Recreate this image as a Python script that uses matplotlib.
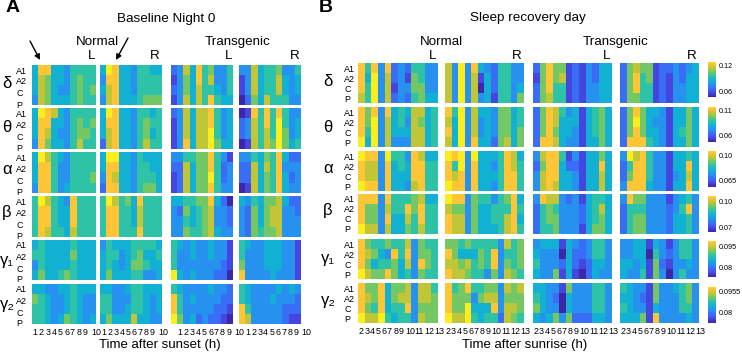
import numpy as np
import matplotlib
matplotlib.use('Agg')
from matplotlib import pyplot as plt
from matplotlib.colors import LinearSegmentedColormap, Normalize
from matplotlib.cm import ScalarMappable
from matplotlib.patches import FancyArrowPatch

plt.rcParams['font.family'] = ['Liberation Sans', 'DejaVu Sans']

# colour level (0-9) of each cell
# each band: normal L, normal R, transgenic L, transgenic R; rows A1, A2, C, P
a_delta = [["4884435555", "4764435655", "4764335656", "3764445655"],
           ["4984435544", "3884435555", "4784435555", "3784445666"],
           ["2374856335", "1364857335", "2364755435", "1374758544"],
           ["3374556335", "1374557434", "1374557434", "0264755533"]]
a_theta = [["4987435555", "4884435656", "4874335665", "3864435755"],
           ["4984435545", "4884435655", "4784435645", "2784435755"],
           ["2374778534", "1374778534", "1374779534", "1384779644"],
           ["0185858533", "2375859534", "2375759634", "0175769645"]]
a_alpha = [["4975435555", "4885335555", "4885335556", "3885345555"],
           ["4994435444", "4884435544", "3874435554", "2884435664"],
           ["3355668531", "2274668523", "1274669523", "1274668533"],
           ["3354658422", "2274758333", "2274658423", "0174658433"]]
a_beta = [["5975438555", "5885448555", "5885448555", "5875547555"],
          ["5975648555", "5885547555", "5885547555", "5885558555"],
          ["4455668420", "3264567332", "3354567332", "3365567433"],
          ["4354667422", "3264677332", "3264677333", "3265667333"]]
a_gamma1 = [["4544445444", "5544446444", "3544445444", "4644565444"],
            ["3544455554", "4553456445", "4543466544", "4644455334"],
            ["5434334331", "5334334331", "5333333321", "9434333220"],
            ["5433444331", "5333444331", "6333444331", "8333343331"]]
a_gamma2 = [["4433445444", "6543345433", "5543345433", "5543465434"],
            ["4433455444", "5533355434", "5533455434", "4644474433"],
            ["5433334332", "8534333322", "8533333221", "9634232210"],
            ["5433334343", "5433343332", "8533333222", "8733333211"]]

b_delta = [["858382325533", "849372316533", "859371336633", "759372325644"],
           ["739384325533", "739371425533", "739370425534", "739373415536"],
           ["268661213244", "168671213244", "268551213344", "267551213344"],
           ["267661223234", "268561213244", "268551213344", "266551213344"]]
b_theta = [["868384547745", "869374537645", "859374447745", "949373337745"],
           ["859374436645", "749373436645", "849373436646", "749384426746"],
           ["268753414564", "268744414564", "268644314564", "288743314464"],
           ["268644314464", "269643314464", "268644314564", "288854314464"]]
b_alpha = [["988395538744", "877384548855", "877384448855", "988384437855"],
           ["989394445874", "859384435875", "878384445885", "988384435885"],
           ["378851314464", "268842214484", "378844314474", "378744314474"],
           ["397853314454", "258853314484", "268853313474", "388843314484"]]
b_beta = [["888385556744", "866375586855", "866384475855", "977374465755"],
          ["988365535684", "766364455585", "877364455784", "877364445785"],
          ["387732314554", "256533324574", "256633324564", "255633314664"],
          ["386633313453", "255533323583", "256633324453", "256633324453"]]
b_gamma1 = [["865565573655", "876438583665", "864556473865", "976686453655"],
            ["665655553756", "864446583556", "776756583656", "877655363765"],
            ["344414323553", "433304223553", "533324212443", "433614102433"],
            ["334414313553", "334405323553", "443416213343", "433516303533"]]
b_gamma2 = [["866846673775", "876846773776", "865845583666", "977954553766"],
            ["856855663767", "866636773666", "866944483776", "977954552765"],
            ["443316333553", "543204333553", "643304333553", "434636222443"],
            ["543316334563", "443216333563", "543314333553", "444618333343"]]

bands_a = [a_delta, a_theta, a_alpha, a_beta, a_gamma1, a_gamma2]
bands_b = [b_delta, b_theta, b_alpha, b_beta, b_gamma1, b_gamma2]
band_names = ['δ', 'θ', 'α', 'β', 'γ₁', 'γ₂']
site_labels = ['A1', 'A2', 'C', 'P']
hours_a = ['1', '2', '3', '4', '5', '6', '7', '8', '9', '10']
hours_b = ['2', '3', '4', '5', '6', '7', '8', '9', '10', '11', '12', '13']

# colorbar ranges and the two labelled ticks
cbar_lo = [0.0486, 0.0456, 0.0569, 0.0641, 0.0729, 0.0727]
cbar_hi = [0.1282, 0.1176, 0.1054, 0.1068, 0.0986, 0.0989]
cbar_ticks = [(0.06, 0.12), (0.06, 0.11), (0.065, 0.10),
              (0.07, 0.10), (0.08, 0.095), (0.08, 0.0955)]
cbar_text = [('0.06', '0.12'), ('0.06', '0.11'), ('0.065', '0.10'),
             ('0.07', '0.10'), ('0.08', '0.095'), ('0.08', '0.0955')]

parula = LinearSegmentedColormap.from_list('parula', [
    (0.2422, 0.1504, 0.6603), (0.2810, 0.3228, 0.9579), (0.1786, 0.5289, 0.9682),
    (0.0689, 0.6948, 0.8394), (0.2161, 0.7843, 0.5923), (0.6720, 0.7793, 0.2227),
    (0.9970, 0.7659, 0.2199), (0.9769, 0.9839, 0.0805)])
# the colorbars stop at gold, they never reach the yellow end
parula_bar = LinearSegmentedColormap.from_list('parula_bar', parula(np.linspace(0, 0.9, 256)))

W, H = 742, 354
fig = plt.figure(figsize=(W / 100, H / 100), dpi=100)


def px_axes(x0, x1, y0, y1):
    return fig.add_axes([x0 / W, 1 - y1 / H, (x1 - x0) / W, (y1 - y0) / H])


def px_text(x, y, s, **kw):
    kw.setdefault('ha', 'center')
    kw.setdefault('va', 'center')
    fig.text(x / W, 1 - y / H, s, **kw)


def draw_block(bands, xs, ys, hours, tick_pos, tick_shift, site_pos, site_pad):
    for r, band in enumerate(bands):
        for c, panel in enumerate(band):
            levels = np.array([[int(d) for d in row] for row in panel])
            ax = px_axes(xs[c][0], xs[c][1], ys[r][0], ys[r][1])
            ax.imshow(levels, cmap=parula, vmin=0, vmax=9.3, aspect='auto',
                      interpolation='nearest')
            for s in ax.spines.values():
                s.set_visible(False)
            ax.set_xticks([])
            ax.set_yticks([])
            if c == 0:
                ax.set_yticks(site_pos)
                ax.set_yticklabels(site_labels, fontsize=6.5, ha='left')
                ax.tick_params(axis='y', length=0, pad=site_pad)
            ax.set_ylim(3.5, -0.5)
            if r == len(bands) - 1:
                # hour labels drift from the cells and run past the panel edge
                for h, p in zip(hours, tick_pos):
                    ax.annotate(h, (p + tick_shift[c], 0),
                                xycoords=ax.get_xaxis_transform(),
                                xytext=(0, -6), textcoords='offset points',
                                ha='center', va='center', fontsize=6.4,
                                annotation_clip=False)


# panel A
xs_a = [(32, 96), (100, 162), (171, 233), (239, 301)]
ys_a = [(65, 105), (108, 149), (152, 193), (196, 237), (240, 280), (284, 324)]
pos_a = [0, 0.97, 1.94, 2.91, 3.88, 4.9, 5.8, 6.8, 7.8, 9.5]
draw_block(bands_a, xs_a, ys_a, hours_a, pos_a, [0, 0.15, 1.0, 0.9],
           [0.0, 1.1, 2.3, 3.4], 11.5)

# panel B
xs_b = [(358, 438), (445, 524), (533, 612), (620, 699)]
ys_b = [(63, 103), (107, 147), (151, 191), (194, 234), (239, 279), (283, 323)]
pos_b = [0, 0.8, 1.6, 2.5, 3.4, 4.2, 5.2, 6, 7.3, 8.7, 10.2, 11.7]
draw_block(bands_b, xs_b, ys_b, hours_b, pos_b, [0, 0, 0, 0],
           [0, 1, 2, 3], 10)

# colorbars
cb_y = [(62, 97), (107, 142), (151, 187), (196, 232), (241, 277), (287, 323)]
for i in range(6):
    cax = px_axes(708, 716, cb_y[i][0], cb_y[i][1])
    sm = ScalarMappable(Normalize(cbar_lo[i], cbar_hi[i]), parula_bar)
    cb = fig.colorbar(sm, cax=cax)
    cb.set_ticks(list(cbar_ticks[i]))
    cb.set_ticklabels(list(cbar_text[i]))
    cb.ax.tick_params(length=0, labelsize=5.2, pad=2)
    cb.outline.set_visible(False)

# band names
y_a = [84, 127, 169, 212, 261, 304]
y_b = [82, 127, 168, 211, 259, 301]
for name, ya, yb in zip(band_names, y_a, y_b):
    px_text(7, ya, name, fontsize=12)
    px_text(328, yb, name, fontsize=12)

px_text(13, 7, 'A', fontsize=14, fontweight='bold')
px_text(326, 7, 'B', fontsize=14, fontweight='bold')
px_text(166, 19, 'Baseline Night 0', fontsize=9.7)
px_text(528, 18, 'Sleep recovery day', fontsize=9.7)

px_text(97, 42, 'Normal', fontsize=9.6)
px_text(92, 56, 'L', fontsize=9.6)
px_text(155, 56, 'R', fontsize=9.6)
px_text(238, 42, 'Transgenic', fontsize=9.6)
px_text(229, 56, 'L', fontsize=9.6)
px_text(295, 56, 'R', fontsize=9.6)
px_text(441, 42, 'Normal', fontsize=9.6)
px_text(433, 56, 'L', fontsize=9.6)
px_text(517, 56, 'R', fontsize=9.6)
px_text(616, 42, 'Transgenic', fontsize=9.6)
px_text(607, 56, 'L', fontsize=9.6)
px_text(692, 56, 'R', fontsize=9.6)

px_text(160, 345, 'Time after sunset (h)', fontsize=9.5)
px_text(525, 345, 'Time after sunrise (h)', fontsize=9.5)

# arrows pointing at hour 2
for start, end in [((30, 41), (40, 60)), ((128, 38), (116, 60))]:
    fig.add_artist(FancyArrowPatch((start[0] / W, 1 - start[1] / H),
                                   (end[0] / W, 1 - end[1] / H),
                                   transform=fig.transFigure, arrowstyle='-|>',
                                   mutation_scale=8, lw=1, color='black',
                                   shrinkA=0, shrinkB=0))

fig.savefig('out.png', dpi=100)
